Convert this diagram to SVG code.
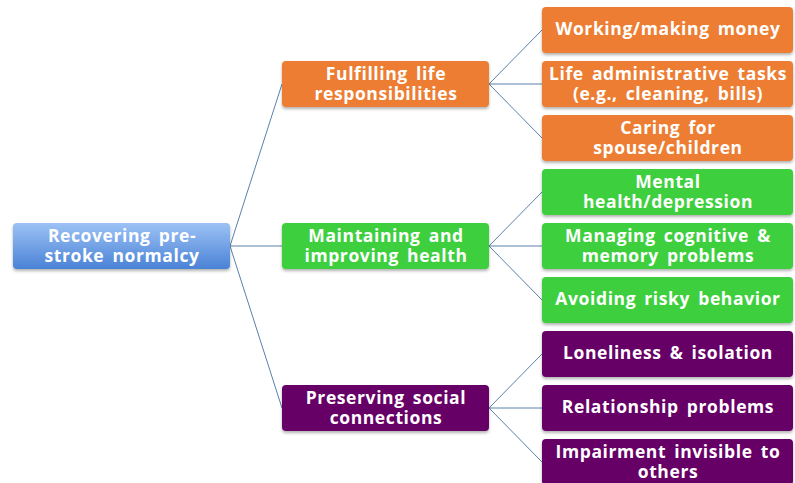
<svg xmlns="http://www.w3.org/2000/svg" width="795" height="483" viewBox="0 0 795 483">
  <defs>
    <linearGradient id="rootFill" x1="0" y1="0" x2="0" y2="1">
      <stop offset="0" stop-color="#9cc2f5"/>
      <stop offset="1" stop-color="#4a82d6"/>
    </linearGradient>
    <filter id="shadow" x="-10%" y="-20%" width="120%" height="150%">
      <feDropShadow dx="0" dy="2" stdDeviation="1.5" flood-color="#000" flood-opacity="0.3"/>
    </filter>
  </defs>
  <style>
    rect { filter: url(#shadow); }
    .root { fill: url(#rootFill); }
    .orange { fill: #ed7d31; }
    .green { fill: #3ccf3c; }
    .purple { fill: #660066; }
    text { font-family: "Open Sans", "Liberation Sans", sans-serif; font-weight: bold; font-size: 17.5px; fill: #fff; text-anchor: middle; letter-spacing: 0.6px; word-spacing: 3px; }
    .links line { stroke: #5b80aa; stroke-width: 1; }
  </style>
  <rect width="795" height="483" fill="#fff" style="filter:none"/>

  <g class="links">
    <line x1="230" y1="246" x2="282" y2="84"/>
    <line x1="230" y1="246" x2="282" y2="246"/>
    <line x1="230" y1="246" x2="282" y2="408"/>
    <line x1="489" y1="84" x2="542" y2="30"/>
    <line x1="489" y1="84" x2="542" y2="84"/>
    <line x1="489" y1="84" x2="542" y2="138"/>
    <line x1="489" y1="246" x2="542" y2="192"/>
    <line x1="489" y1="246" x2="542" y2="246"/>
    <line x1="489" y1="246" x2="542" y2="300"/>
    <line x1="489" y1="408" x2="542" y2="354"/>
    <line x1="489" y1="408" x2="542" y2="408"/>
    <line x1="489" y1="408" x2="542" y2="462"/>
  </g>

  <g id="root">
    <rect class="root" x="13" y="223" width="217" height="46" rx="4"/>
    <text x="122" y="242">Recovering pre-</text>
    <text x="122" y="262">stroke normalcy</text>
  </g>

  <g id="fulfilling">
    <rect class="orange" x="282" y="61" width="207" height="46" rx="4"/>
    <text x="386" y="80">Fulfilling life</text>
    <text x="386" y="100">responsibilities</text>
  </g>
  <g id="maintaining">
    <rect class="green" x="282" y="223" width="207" height="46" rx="4"/>
    <text x="386" y="242">Maintaining and</text>
    <text x="386" y="262">improving health</text>
  </g>
  <g id="preserving">
    <rect class="purple" x="282" y="385" width="207" height="46" rx="4"/>
    <text x="386" y="404">Preserving social</text>
    <text x="386" y="424">connections</text>
  </g>

  <g id="working">
    <rect class="orange" x="542" y="7" width="251" height="46" rx="4"/>
    <text x="668" y="35">Working/making money</text>
  </g>
  <g id="admin">
    <rect class="orange" x="542" y="61" width="251" height="46" rx="4"/>
    <text x="668" y="80">Life administrative tasks</text>
    <text x="668" y="100">(e.g., cleaning, bills)</text>
  </g>
  <g id="caring">
    <rect class="orange" x="542" y="115" width="251" height="46" rx="4"/>
    <text x="668" y="134">Caring for</text>
    <text x="668" y="154">spouse/children</text>
  </g>

  <g id="mental">
    <rect class="green" x="542" y="169" width="251" height="46" rx="4"/>
    <text x="668" y="188">Mental</text>
    <text x="668" y="208">health/depression</text>
  </g>
  <g id="cognitive">
    <rect class="green" x="542" y="223" width="251" height="46" rx="4"/>
    <text x="668" y="242">Managing cognitive &amp;</text>
    <text x="668" y="262">memory problems</text>
  </g>
  <g id="risky">
    <rect class="green" x="542" y="277" width="251" height="46" rx="4"/>
    <text x="668" y="305">Avoiding risky behavior</text>
  </g>

  <g id="loneliness">
    <rect class="purple" x="542" y="331" width="251" height="46" rx="4"/>
    <text x="668" y="359">Loneliness &amp; isolation</text>
  </g>
  <g id="relationship">
    <rect class="purple" x="542" y="385" width="251" height="46" rx="4"/>
    <text x="668" y="413">Relationship problems</text>
  </g>
  <g id="invisible">
    <rect class="purple" x="542" y="439" width="251" height="46" rx="4"/>
    <text x="668" y="458">Impairment invisible to</text>
    <text x="668" y="478">others</text>
  </g>
</svg>
